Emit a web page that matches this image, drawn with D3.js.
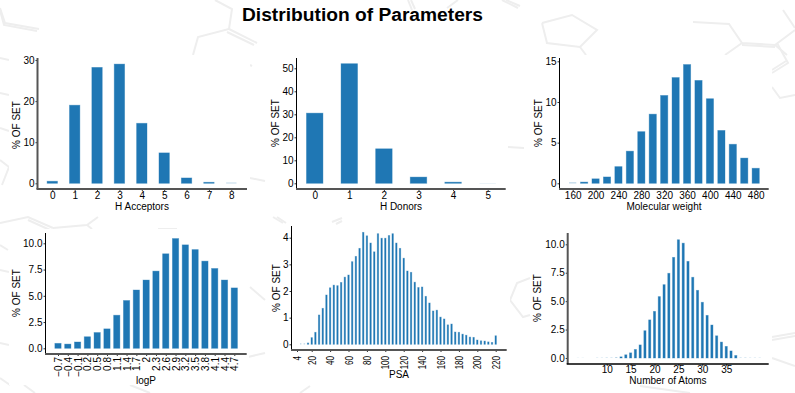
<!DOCTYPE html>
<html>
<head>
<meta charset="utf-8">
<script src="https://cdn.jsdelivr.net/npm/d3@7"></script>
<style>
    html, body { margin: 0; padding: 0; background: #fff; }
    svg { display: block; }
    text { font-family: "Liberation Sans", Arial, sans-serif; fill: #000; }
</style>
</head>
<body>
<svg id="chart" width="795" height="393"></svg>
<script>
const hAcceptorCats = [0, 1, 2, 3, 4, 5, 6, 7, 8];
const hAcceptorVals = [0.5, 19, 28.2, 29, 14.6, 7.4, 1.3, 0.25, 0.15];

const hDonorCats = [0, 1, 2, 3, 4, 5];
const hDonorVals = [30.5, 52, 15, 2.7, 0.5, 0.08];

const molWeightCats = [160, 180, 200, 220, 240, 260, 280, 300, 320, 340, 360, 380, 400, 420, 440, 460, 480];
const molWeightVals = [0.1, 0.15, 0.55, 0.78, 2.05, 3.95, 6.35, 8.5, 10.8, 13, 14.6, 12.65, 10.4, 6.5, 4.8, 3.1, 1.85];
const molWeightTicks = [160, 200, 240, 280, 320, 360, 400, 440, 480];

const logPCats = ["\u22120.7", "\u22120.4", "\u22120.1", "0.2", "0.5", "0.8", "1.1", "1.4", "1.7", "2", "2.3", "2.6", "2.9", "3.2", "3.5", "3.8", "4.1", "4.4", "4.7"];
const logPVals = [0.47, 0.4, 0.6, 1.1, 1.5, 1.85, 3.15, 4.55, 5.55, 6.5, 7.35, 9, 10.45, 9.85, 9.4, 8.3, 7.6, 6.5, 5.75];

const psaCats = [4, 8, 12, 16, 20, 24, 28, 32, 36, 40, 44, 48, 52, 56, 60, 64, 68, 72, 76, 80, 84, 88, 92, 96, 100, 104, 108, 112, 116, 120, 124, 128, 132, 136, 140, 144, 148, 152, 156, 160, 164, 168, 172, 176, 180, 184, 188, 192, 196, 200, 204, 208, 212, 216, 220];
const psaVals = [0, 0.03, 0.03, 0.05, 0.25, 0.45, 1.1, 1.35, 1.85, 2.12, 2.22, 2.2, 2.32, 2.52, 2.6, 3.1, 3.3, 3.6, 4.2, 4.07, 3.8, 3.47, 4.15, 3.98, 3.98, 4.08, 4.15, 3.8, 3.6, 3.23, 2.75, 2.7, 2.33, 2.13, 2.15, 1.8, 1.55, 1.25, 1.28, 1.02, 0.95, 0.73, 0.76, 0.46, 0.45, 0.38, 0.34, 0.27, 0.26, 0.16, 0.13, 0.12, 0.09, 0.07, 0.32];
const psaTicks = [4, 20, 40, 60, 80, 100, 120, 140, 160, 180, 200, 220];

const atomCats = [4, 5, 6, 7, 8, 9, 10, 11, 12, 13, 14, 15, 16, 17, 18, 19, 20, 21, 22, 23, 24, 25, 26, 27, 28, 29, 30, 31, 32, 33, 34, 35, 36, 37, 38, 39, 40, 41, 42];
const atomVals = [0.01, 0.01, 0, 0, 0.02, 0.02, 0.03, 0.03, 0.06, 0.1, 0.28, 0.45, 0.75, 1.15, 2.4, 3.35, 4.1, 5.4, 6.45, 7.45, 8.85, 10.4, 10.1, 8.5, 7.1, 5.95, 4.9, 3.75, 2.9, 1.95, 1.4, 1.02, 0.62, 0.22, 0.03, 0.03, 0.02, 0.02, 0.02];
const atomTicks = [10, 15, 20, 25, 30, 35];

// faint molecule sketches behind the white plot boxes, page coordinates
const sketchLines = [
    [[0, 8], [5, 23], [39, 29]], [[0, 10], [4, 25], [37, 31]],
    [[215, 0], [232, 9], [229, 29], [198, 37], [193, 55]], [[229, 29], [257, 43]], [[227, 32], [254, 45]],
    [[408, 0], [412, 10]], [[411, 0], [415, 9]], [[447, 8], [458, 0]], [[502, 0], [518, 8]], [[506, 0], [520, 6]],
    [[542, 23], [572, 15], [597, 30], [580, 47], [547, 43], [542, 23]], [[580, 47], [586, 55]],
    [[693, 22], [729, 24], [742, 43], [775, 45], [795, 30]], [[742, 45], [775, 47]], [[783, 10], [795, 28]], [[742, 43], [725, 55]], [[775, 45], [787, 55]],
    [[772, 73], [788, 63], [777, 43]], [[772, 70], [786, 61]], [[772, 87], [780, 98], [795, 95]],
    [[0, 58], [9, 60]], [[0, 93], [9, 95]], [[0, 128], [9, 131]], [[0, 160], [9, 167], [2, 185]],
    [[250, 178], [265, 181]], [[508, 147], [524, 148]], [[250, 65], [252, 66]],
    [[0, 223], [28, 217], [53, 228]], [[28, 220], [50, 230]], [[53, 228], [87, 225], [98, 217]], [[87, 225], [92, 229]],
    [[158, 229], [177, 229]], [[273, 217], [283, 223]], [[277, 217], [286, 223]], [[332, 222], [342, 218]], [[336, 224], [342, 221]],
    [[0, 245], [8, 250]], [[0, 270], [9, 272]], [[0, 343], [9, 345]],
    [[250, 287], [265, 300]], [[248, 357], [265, 353]],
    [[530, 278], [517, 283], [510, 300], [523, 317], [530, 315]],
    [[772, 337], [795, 333]], [[772, 340], [795, 336]], [[772, 358], [795, 366]],
    [[0, 378], [10, 385]], [[24, 385], [35, 393]], [[130, 385], [150, 393]], [[300, 393], [310, 386]], [[640, 386], [690, 393]]
];

const whiteBoxes = [
    {x: 9, y: 55, w: 241, h: 160},
    {x: 268, y: 55, w: 240, h: 160},
    {x: 532, y: 55, w: 240, h: 160},
    {x: 9, y: 229, w: 240, h: 156},
    {x: 268, y: 229, w: 242, h: 156},
    {x: 532, y: 229, w: 240, h: 156}
];

const panels = [
    {cats: hAcceptorCats, vals: hAcceptorVals, ticks: hAcceptorCats, yTicks: [0, 10, 20, 30], yFmt: d3.format("d"), title: "H Acceptors",
     left: 37.5, right: 247, top: 58, bottom: 189, xFirst: 52.3, xLast: 231.3, y0: 183.3, yRef: 30, yRefPx: 60, ratio: 0.5,
     titleX: 142, titleY: 210, tickY: 199, yTitleX: 20, yTitleY: 125, ySpine: "#555", ySpineW: 2, xSpine: "#555", xSpineW: 2},
    {cats: hDonorCats, vals: hDonorVals, ticks: hDonorCats, yTicks: [0, 10, 20, 30, 40, 50], yFmt: d3.format("d"), title: "H Donors",
     left: 296.5, right: 505.7, top: 58, bottom: 189, xFirst: 314.7, xLast: 487.7, y0: 183.3, yRef: 50, yRefPx: 68.3, ratio: 0.5,
     titleX: 401, titleY: 210, tickY: 199, yTitleX: 279, yTitleY: 123, ySpine: "#000", ySpineW: 1, xSpine: "#555", xSpineW: 2},
    {cats: molWeightCats, vals: molWeightVals, ticks: molWeightTicks, yTicks: [0, 5, 10, 15], yFmt: d3.format("d"), title: "Molecular weight",
     left: 559.5, right: 768.7, top: 58, bottom: 189, xFirst: 572.7, xLast: 755.7, y0: 183.3, yRef: 15, yRefPx: 61.3, ratio: 0.7,
     titleX: 664, titleY: 210, tickY: 199, yTitleX: 542, yTitleY: 123, ySpine: "#000", ySpineW: 1, xSpine: "#555", xSpineW: 2},
    {cats: logPCats, vals: logPVals, ticks: logPCats, yTicks: [0, 2.5, 5, 7.5, 10], yFmt: d3.format(".1f"), title: "logP", rotate: true, labelScale: 1,
     left: 45.5, right: 246.7, top: 233, bottom: 354, xFirst: 58, xLast: 234.3, y0: 348.3, yRef: 10, yRefPx: 243.3, ratio: 0.72,
     titleX: 146, titleY: 384, tickY: 357, yTitleX: 20, yTitleY: 293, ySpine: "#000", ySpineW: 1, xSpine: "#555", xSpineW: 2},
    {cats: psaCats, vals: psaVals, ticks: psaTicks, yTicks: [0, 1, 2, 3, 4], yFmt: d3.format("d"), title: "PSA", rotate: true, labelScale: 0.8,
     left: 291.5, right: 506.7, top: 226, bottom: 350, xFirst: 297, xLast: 495.7, y0: 344.3, yRef: 4, yRefPx: 237.7, ratio: 0.6,
     titleX: 399, titleY: 378, tickY: 356, yTitleX: 280, yTitleY: 288, ySpine: "#000", ySpineW: 1, xSpine: "#555", xSpineW: 2},
    {cats: atomCats, vals: atomVals, ticks: atomTicks, yTicks: [0, 2.5, 5, 7.5, 10], yFmt: d3.format(".1f"), title: "Number of Atoms",
     left: 567.7, right: 768.7, top: 233, bottom: 364, xFirst: 578, xLast: 759.7, y0: 358, yRef: 10, yRefPx: 244.3, ratio: 0.62,
     titleX: 668, titleY: 384, tickY: 373, yTitleX: 541, yTitleY: 298, ySpine: "#555", ySpineW: 2, xSpine: "#000", xSpineW: 1.5}
];

const svg = d3.select("#chart");
const barColor = "#1f77b4";

svg.append("g").selectAll("path")
    .data(sketchLines)
  .enter().append("path")
    .attr("d", d3.line())
    .attr("fill", "none")
    .attr("stroke", "#eeeeee")
    .attr("stroke-width", 2);

svg.append("g").selectAll("rect")
    .data(whiteBoxes)
  .enter().append("rect")
    .attr("x", d => d.x)
    .attr("y", d => d.y)
    .attr("width", d => d.w)
    .attr("height", d => d.h)
    .attr("fill", "#fff");

svg.append("text")
    .attr("x", 362.5)
    .attr("y", 21)
    .attr("text-anchor", "middle")
    .style("font-size", "19.2px")
    .style("font-weight", "bold")
    .text("Distribution of Parameters");

panels.forEach(p => {
    const g = svg.append("g"),
        x = d3.scalePoint().domain(p.cats).range([p.xFirst, p.xLast]),
        y = d3.scaleLinear().domain([0, p.yRef]).range([p.y0, p.yRefPx]),
        barWidth = x.step() * p.ratio - 0.8;

    // thin see-through stroke gives the soft bar edge of the original,
    // near-empty bars stay a pale sliver so they get none and a lighter fill
    g.selectAll(".bar")
        .data(p.cats)
      .enter().append("rect")
        .attr("class", "bar")
        .attr("x", d => x(d) - barWidth / 2)
        .attr("width", barWidth)
        .attr("y", (d, i) => y(p.vals[i]))
        .attr("height", (d, i) => p.y0 - y(p.vals[i]))
        .attr("fill", barColor)
        .attr("fill-opacity", (d, i) => p.y0 - y(p.vals[i]) < 1 ? 0.45 : 1)
        .attr("stroke", (d, i) => p.y0 - y(p.vals[i]) < 1 ? "none" : barColor)
        .attr("stroke-opacity", 0.45)
        .attr("stroke-width", 0.8);

    const xAxis = g.append("g")
        .attr("transform", `translate(0,${p.bottom})`)
        .call(d3.axisBottom(x).tickValues(p.ticks).tickSize(2).tickSizeOuter(0));
    xAxis.select(".domain").remove();
    xAxis.selectAll("line").attr("stroke", "#333");
    xAxis.selectAll("text").style("font-size", "10px").style("fill", "#000");
    if(p.rotate) {
        xAxis.selectAll("text")
            .attr("text-anchor", "end")
            .attr("transform", `translate(0,${p.tickY - p.bottom}) rotate(-90) scale(${p.labelScale},1)`)
            .attr("x", 0)
            .attr("y", 0)
            .attr("dx", 0)
            .attr("dy", "0.35em");
    } else {
        xAxis.selectAll("text")
            .attr("y", p.tickY - p.bottom)
            .attr("dy", 0);
    }

    const yAxis = g.append("g")
        .attr("transform", `translate(${p.left},0)`)
        .call(d3.axisLeft(y).tickValues(p.yTicks).tickFormat(p.yFmt).tickSize(2).tickPadding(1).tickSizeOuter(0));
    yAxis.select(".domain").remove();
    yAxis.selectAll("line").attr("stroke", "#333");
    yAxis.selectAll("text").style("font-size", "10px").style("fill", "#000");

    g.append("line")
        .attr("x1", p.left).attr("x2", p.left)
        .attr("y1", p.top).attr("y2", p.bottom)
        .attr("stroke", p.ySpine)
        .attr("stroke-width", p.ySpineW);
    g.append("line")
        .attr("x1", p.left - p.ySpineW / 2).attr("x2", p.right)
        .attr("y1", p.bottom).attr("y2", p.bottom)
        .attr("stroke", p.xSpine)
        .attr("stroke-width", p.xSpineW);

    g.append("text")
        .attr("x", p.titleX)
        .attr("y", p.titleY)
        .attr("text-anchor", "middle")
        .style("font-size", "10px")
        .text(p.title);
    g.append("text")
        .attr("transform", `translate(${p.yTitleX},${p.yTitleY}) rotate(-90)`)
        .attr("text-anchor", "middle")
        .style("font-size", "10px")
        .text("% OF SET");
});
</script>
</body>
</html>
